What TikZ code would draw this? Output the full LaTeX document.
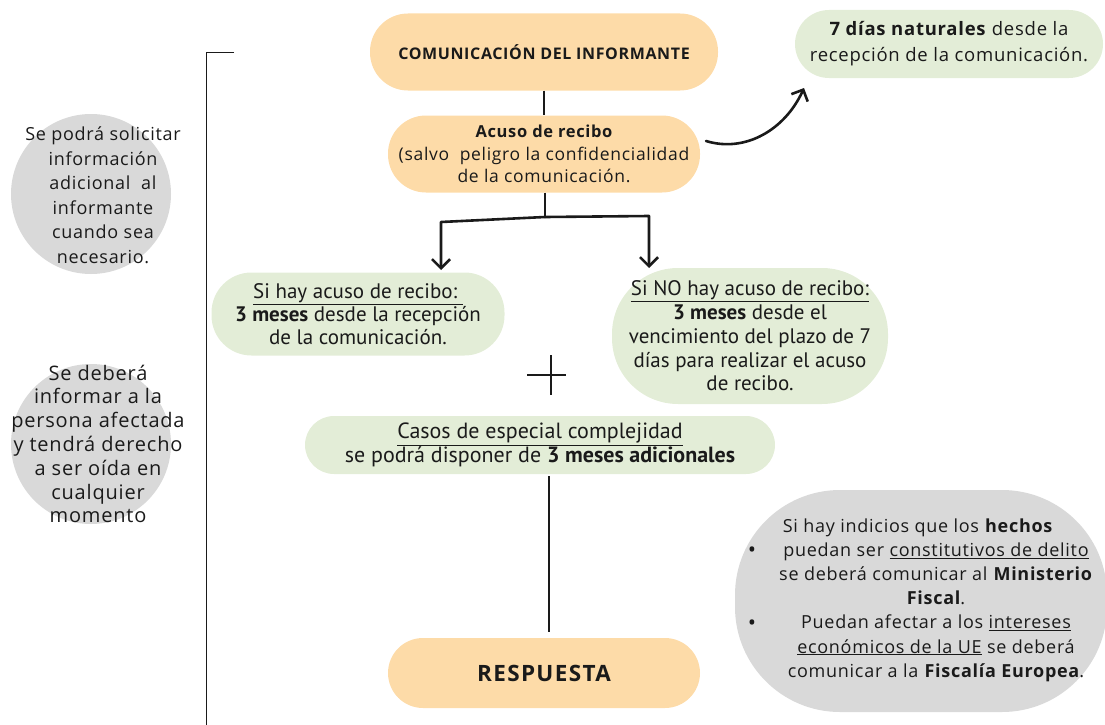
\documentclass[tikz,border=0pt]{standalone}
\usepackage{fontspec}
\setmainfont{Open Sans}[LetterSpace=4]
\newfontfamily\cond{PT Sans}
\usetikzlibrary{arrows.meta}
\definecolor{peach}{HTML}{FDDBA8}
\definecolor{mint}{HTML}{E3EDD7}
\definecolor{greyfill}{HTML}{D9D9D9}
\definecolor{ink}{HTML}{1A1A1A}
\tikzset{
  pill/.style={fill=#1, rounded corners=36pt, align=center, inner sep=0pt, text=ink},
  orangebox/.style={pill=peach},
  greenbox/.style={pill=mint},
  greycircle/.style={circle, fill=greyfill, minimum size=160pt, inner sep=0pt},
  circtext/.style={align=center, text=ink, font=\fontsize{18}{24.5}\selectfont},
  conn/.style={draw=ink, line width=1.6pt},
  thick arrow/.style={draw=ink, line width=2.6pt, line cap=round, line join=round,
    -{Straight Barb[length=9pt,width=18pt,line width=2.6pt]}},
}
\begin{document}
\begin{tikzpicture}[x=1pt,y=-1pt]
\useasboundingbox (0,0) rectangle (1105,725);

% bracket line on the left
\draw[draw=ink, line width=1pt] (234,53) -- (206,53) -- (206,725);

% grey circles
\node[greycircle] (g1) at (91,194) {};
\node[circtext] (g1t) at (103,195) {Se podrá solicitar\\información\\adicional\ \ al\\informante\\cuando sea\\necesario.};
\node[greycircle] (g2) at (91,444) {};
\node[circtext, font=\fontsize{20}{23.8}\selectfont] (g2t) at (98,444) {Se deberá\\informar a la\\persona afectada\\y tendrá derecho\\a ser oída en\\cualquier\\momento};

% orange boxes
\node[orangebox, minimum width=348pt, minimum height=77pt, rounded corners=38pt,
  font=\fontsize{16}{18}\selectfont\bfseries] (com) at (544,52)
  {COMUNICACIÓN DEL INFORMANTE};
\node[orangebox, minimum width=312pt, minimum height=77pt, rounded corners=38pt,
  font=\fontsize{17.5}{22.5}\selectfont] (acu) at (544,154)
  {{\fontsize{16.5}{22.5}\selectfont\bfseries Acuso de recibo}\\(salvo\ \ peligro la confidencialidad\\de la comunicación.};
\node[orangebox, minimum width=312pt, minimum height=70pt, rounded corners=35pt,
  font=\fontsize{22.5}{24}\selectfont\bfseries] (resp) at (544,673)
  {\addfontfeature{LetterSpace=6}RESPUESTA};

% green boxes
\node[greenbox, minimum width=308pt, minimum height=68pt, rounded corners=34pt,
  font=\fontsize{18.5}{26}\selectfont] (dias) at (949,44)
  {\textbf{7 días naturales} desde la\\recepción de la comunicación.};
\node[greenbox, minimum width=293pt, minimum height=83pt, rounded corners=40pt,
  font=\cond\fontsize{21}{23}\selectfont] (si) at (358,314)
  {\underline{Si hay acuso de recibo:\ }\\\textbf{3 meses} desde la recepción\\de la comunicación.};
\node[greenbox, minimum width=276pt, minimum height=136pt, rounded corners=66pt,
  font=\cond\fontsize{21}{23.7}\selectfont] (no) at (750,336)
  {\underline{Si NO hay acuso de recibo:}\\\textbf{3 meses} desde el\\vencimiento del plazo de 7\\días para realizar el acuso\\de recibo.};
\node[greenbox, minimum width=470pt, minimum height=58pt, rounded corners=29pt,
  font=\cond\fontsize{22}{24}\selectfont] (casos) at (540,445)
  {\underline{Casos de especial complejidad}\\se podrá disponer de \textbf{3 meses adicionales}};

% grey pill bottom right
\node[fill=greyfill, minimum width=372pt, minimum height=222pt, rounded corners=105pt,
  inner sep=0pt] (ind) at (921,601) {};
\node[circtext, font=\fontsize{18}{24.2}\selectfont] (indt) at (936,600)
  {\hspace*{-36pt}Si hay indicios que los \textbf{hechos}\\
   puedan ser \underline{constitutivos de delito}\\
   se deberá comunicar al \textbf{Ministerio}\\
   \textbf{Fiscal}.\\
   Puedan afectar a los \underline{intereses}\\
   \underline{económicos de la UE} se deberá\\
   comunicar a la \textbf{Fiscalía Europea}.};
\node[text=ink, font=\fontsize{22}{22}\selectfont] (b1) at (752,552) {•};
\node[text=ink, font=\fontsize{22}{22}\selectfont] (b2) at (752,625) {•};

% connectors
\draw[conn] (com.south) -- (acu.north);
\coordinate (split) at (545,217);
\coordinate (ltop) at (441,222);
\coordinate (rtop) at (649,216);
\coordinate (lend) at (441,270);
\coordinate (rend) at (649,268);
\draw[draw=ink, line width=2.6pt, line join=round] (acu.south -| split) -- (split);
\draw[thick arrow] (split) -- (ltop) -- (lend);
\draw[thick arrow] (split) -- (rtop) -- (rend);
\coordinate (cs) at (706,141);
\coordinate (ce) at (804,88);
\draw[thick arrow] (cs) .. controls (745,153) and (785,130) .. (ce);
\coordinate (c1) at (549,476);
\coordinate (c2) at (549,632);
\draw[conn] (c1) -- (c2);

% plus sign
\draw[draw=ink, line width=1.6pt] (527,375) -- (566,375) (551,355) -- (551,395);
\end{tikzpicture}
\end{document}
